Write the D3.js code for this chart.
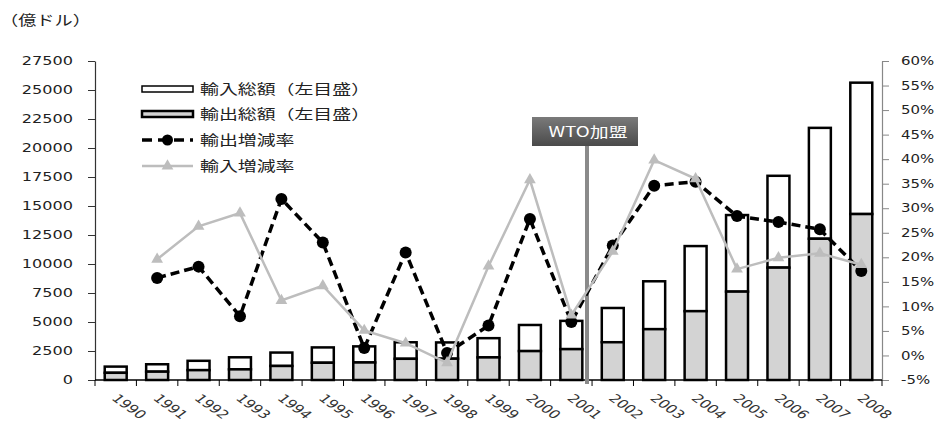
<!DOCTYPE html>
<html>
<head>
<meta charset="utf-8">
<script src="https://cdn.jsdelivr.net/npm/d3@7"></script>
<style>
  body { margin: 0; background: #fff; }
  svg text { font-family: 'DejaVu Sans', 'Noto Sans CJK JP', sans-serif; fill: #222; }
  .jp { font-family: 'Noto Sans CJK JP', sans-serif; }
</style>
</head>
<body>
<div id="chart"></div>
<script>
const years = ['1990','1991','1992','1993','1994','1995','1996','1997','1998','1999',
  '2000','2001','2002','2003','2004','2005','2006','2007','2008'];
// 億ドル
const exportTotal = [621, 719, 849, 917, 1210, 1488, 1511, 1828, 1837, 1949,
  2492, 2661, 3256, 4382, 5933, 7620, 9689, 12178, 14307];
const importTotal = [534, 638, 806, 1040, 1156, 1321, 1388, 1424, 1402, 1657,
  2251, 2436, 2952, 4128, 5612, 6600, 7915, 9558, 11326];
// %
const exportGrowth = [null, 15.8, 18.1, 8.0, 31.9, 23.0, 1.5, 21.0, 0.5, 6.1,
  27.8, 6.8, 22.4, 34.6, 35.4, 28.4, 27.2, 25.7, 17.2];
const importGrowth = [null, 19.6, 26.3, 29.0, 11.2, 14.2, 5.1, 2.5, -1.5, 18.2,
  35.8, 8.2, 21.2, 39.8, 36.0, 17.6, 19.9, 20.8, 18.5];
const leftTicks = d3.range(0, 27501, 2500);
const rightTicks = d3.range(-5, 61, 5);
const legendLabels = ['輸入総額（左目盛）', '輸出総額（左目盛）', '輸出増減率', '輸入増減率'];

const W = 939, H = 423;
const SX = 1.4; // reference text looks stretched horizontally
const m = { left: 95, right: 882, top: 61, bottom: 380 };

const svg = d3.select('#chart').append('svg')
  .attr('width', W).attr('height', H);

const x = d3.scaleBand().domain(years).range([m.left, m.right])
  .paddingInner(0.47).paddingOuter(0.235);
const y = d3.scaleLinear().domain([0, 27500]).range([m.bottom, m.top]);
const y2 = d3.scaleLinear().domain([-5, 60]).range([m.bottom, m.top]);
const cx = (d) => x(d) + x.bandwidth() / 2;

// unit label
svg.append('text').attr('class', 'jp')
  .attr('transform', `translate(0, 25) scale(1.3,1)`)
  .style('font-size', '14px')
  .text('（億ドル）');

// left axis
const gL = svg.append('g')
  .attr('transform', `translate(${m.left},0)`)
  .call(d3.axisLeft(y).tickValues(leftTicks).tickSize(7).tickSizeOuter(0).tickFormat(d3.format('d')));
gL.select('.domain').attr('stroke', '#333').attr('stroke-width', 1.2);
gL.selectAll('.tick line').attr('stroke', '#333');
gL.selectAll('.tick text')
  .attr('x', -22 / SX)
  .attr('transform', `scale(${SX},1)`)
  .style('font-size', '11.5px')
  .style('fill', '#222');

// right axis
const gR = svg.append('g')
  .attr('transform', `translate(${m.right},0)`)
  .call(d3.axisRight(y2).tickValues(rightTicks).tickSize(7).tickSizeOuter(0).tickFormat((d) => d + '%'));
gR.select('.domain').attr('stroke', '#888').attr('stroke-width', 1.2);
gR.selectAll('.tick line').attr('stroke', '#888');
gR.selectAll('.tick text')
  .attr('x', 19 / 1.3)
  .attr('transform', `scale(1.3,1)`)
  .style('font-size', '11.5px')
  .style('fill', '#222');

// bars: export (gray, bottom) + import (white, stacked)
const bars = svg.append('g');
years.forEach((yr, i) => {
  bars.append('rect')
    .attr('x', x(yr)).attr('width', x.bandwidth())
    .attr('y', y(exportTotal[i] + importTotal[i]))
    .attr('height', y(exportTotal[i]) - y(exportTotal[i] + importTotal[i]))
    .attr('fill', '#fff').attr('stroke', '#000').attr('stroke-width', 2.5);
  bars.append('rect')
    .attr('x', x(yr)).attr('width', x.bandwidth())
    .attr('y', y(exportTotal[i]))
    .attr('height', y(0) - y(exportTotal[i]))
    .attr('fill', '#d3d3d3').attr('stroke', '#000').attr('stroke-width', 2.5);
});

// x axis
const gX = svg.append('g').attr('transform', `translate(0,${m.bottom})`);
gX.append('line').attr('x1', m.left).attr('x2', m.right).attr('stroke', '#000').attr('stroke-width', 1.5);
gX.selectAll('line.tk').data(d3.range(years.length + 1)).join('line')
  .attr('class', 'tk')
  .attr('x1', (i) => m.left + i * x.step()).attr('x2', (i) => m.left + i * x.step())
  .attr('y1', 0).attr('y2', 6).attr('stroke', '#000');
gX.selectAll('text').data(years).join('text')
  .attr('transform', (d) => `translate(${cx(d) - 5},${19}) scale(${SX},1) rotate(45)`)
  .style('font-size', '11.5px')
  .style('fill', '#333')
  .text((d) => d);

// WTO marker
svg.append('line')
  .attr('x1', 587).attr('x2', 587).attr('y1', 145).attr('y2', 384)
  .attr('stroke', '#8a8a8a').attr('stroke-width', 4);
const grad = svg.append('defs').append('linearGradient').attr('id', 'wto')
  .attr('x1', 0).attr('y1', 0).attr('x2', 0).attr('y2', 1);
grad.append('stop').attr('offset', 0).attr('stop-color', '#7a7a7a');
grad.append('stop').attr('offset', 1).attr('stop-color', '#4a4a4a');
svg.append('rect').attr('x', 532).attr('y', 117).attr('width', 106).attr('height', 29)
  .attr('fill', 'url(#wto)');
svg.append('text').attr('class', 'jp')
  .attr('transform', `translate(588,137) scale(1.35,1)`)
  .attr('text-anchor', 'middle')
  .style('font-size', '14px')
  .style('fill', '#fff')
  .text('WTO加盟');

// export growth (black dashed)
const expPts = years.map((d, i) => [d, exportGrowth[i]]).filter((p) => p[1] !== null);
const impPts = years.map((d, i) => [d, importGrowth[i]]).filter((p) => p[1] !== null);
const line = d3.line().x((p) => cx(p[0])).y((p) => y2(p[1]));

svg.append('path').datum(expPts).attr('d', line)
  .attr('fill', 'none').attr('stroke', '#000').attr('stroke-width', 3.5)
  .attr('stroke-dasharray', '9,5');
svg.selectAll('circle.exp').data(expPts).join('circle')
  .attr('class', 'exp')
  .attr('cx', (p) => cx(p[0])).attr('cy', (p) => y2(p[1])).attr('r', 6)
  .attr('fill', '#000');

// import growth (gray, triangles)
svg.append('path').datum(impPts).attr('d', line)
  .attr('fill', 'none').attr('stroke', '#bdbdbd').attr('stroke-width', 2.5);
const tri = d3.symbol().type(d3.symbolTriangle).size(60);
svg.selectAll('path.imp').data(impPts).join('path')
  .attr('class', 'imp')
  .attr('transform', (p) => `translate(${cx(p[0])},${y2(p[1])})`)
  .attr('d', tri).attr('fill', '#bdbdbd');

// legend
const lg = svg.append('g').attr('transform', 'translate(142,0)');
const rows = [89, 114, 140, 166];
lg.append('rect').attr('x', 0).attr('y', rows[0] - 3).attr('width', 51).attr('height', 6)
  .attr('fill', '#fff').attr('stroke', '#000').attr('stroke-width', 1.5);
lg.append('rect').attr('x', 0).attr('y', rows[1] - 3).attr('width', 51).attr('height', 6)
  .attr('fill', '#d3d3d3').attr('stroke', '#000').attr('stroke-width', 2.5);
lg.append('line').attr('x1', 0).attr('x2', 51).attr('y1', rows[2]).attr('y2', rows[2])
  .attr('stroke', '#000').attr('stroke-width', 3.5).attr('stroke-dasharray', '10,6');
lg.append('circle').attr('cx', 25.5).attr('cy', rows[2]).attr('r', 5.5).attr('fill', '#000');
lg.append('line').attr('x1', 0).attr('x2', 51).attr('y1', rows[3]).attr('y2', rows[3])
  .attr('stroke', '#bdbdbd').attr('stroke-width', 2.5);
lg.append('path').attr('transform', `translate(25.5,${rows[3]})`).attr('d', tri).attr('fill', '#bdbdbd');
lg.selectAll('text').data(legendLabels).join('text')
  .attr('class', 'jp')
  .attr('transform', (d, i) => `translate(58,${rows[i] + 5}) scale(1.35,1)`)
  .style('font-size', '14px')
  .text((d) => d);
</script>
</body>
</html>
